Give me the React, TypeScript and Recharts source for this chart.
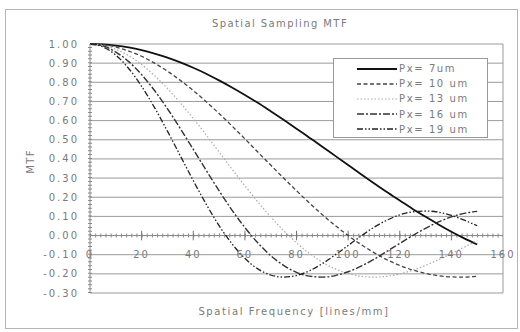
import {
  LineChart,
  Line,
  XAxis,
  YAxis,
  CartesianGrid,
  ReferenceLine,
  ReferenceDot,
} from 'recharts'

// spatial frequency, lines/mm
const freq = [0, 5, 10, 15, 20, 25, 30, 35, 40, 45, 50, 55, 60, 65, 70, 75, 80, 85, 90, 95, 100, 105, 110, 115, 120, 125, 130, 135, 140, 145, 150]

// MTF for each pixel pitch
const px7 = [1.0, 0.998, 0.992, 0.982, 0.968, 0.95, 0.929, 0.904, 0.876, 0.845, 0.81, 0.773, 0.734, 0.693, 0.649, 0.604, 0.558, 0.511, 0.464, 0.416, 0.368, 0.32, 0.273, 0.227, 0.183, 0.139, 0.098, 0.058, 0.02, -0.015, -0.047]
const px10 = [1.0, 0.996, 0.984, 0.963, 0.936, 0.9, 0.858, 0.81, 0.757, 0.699, 0.637, 0.572, 0.505, 0.436, 0.368, 0.3, 0.234, 0.17, 0.109, 0.052, 0.0, -0.047, -0.089, -0.126, -0.156, -0.18, -0.198, -0.21, -0.216, -0.217, -0.212]
const px13 = [1.0, 0.993, 0.972, 0.939, 0.893, 0.835, 0.768, 0.693, 0.611, 0.525, 0.436, 0.347, 0.26, 0.176, 0.098, 0.026, -0.038, -0.093, -0.139, -0.174, -0.198, -0.213, -0.217, -0.213, -0.2, -0.181, -0.156, -0.126, -0.094, -0.06, -0.026]
const px16 = [1.0, 0.99, 0.958, 0.908, 0.84, 0.757, 0.662, 0.558, 0.45, 0.341, 0.234, 0.133, 0.042, -0.038, -0.105, -0.156, -0.192, -0.212, -0.217, -0.209, -0.189, -0.16, -0.124, -0.083, -0.041, 0.0, 0.038, 0.071, 0.097, 0.116, 0.126]
const px19 = [1.0, 0.985, 0.942, 0.872, 0.779, 0.668, 0.545, 0.416, 0.287, 0.164, 0.052, -0.043, -0.119, -0.174, -0.206, -0.217, -0.209, -0.184, -0.147, -0.101, -0.052, -0.003, 0.043, 0.08, 0.108, 0.124, 0.128, 0.122, 0.105, 0.08, 0.051]

const yTicks = [-0.3, -0.2, -0.1, 0, 0.1, 0.2, 0.3, 0.4, 0.5, 0.6, 0.7, 0.8, 0.9, 1.0]
const xTicks = [0, 20, 40, 60, 80, 100, 120, 140, 160]
const seriesNames = ['Px= 7um', 'Px= 10 um', 'Px= 13 um', 'Px= 16 um', 'Px= 19 um']

const data = freq.map((f, i) => ({
  f,
  px7: px7[i],
  px10: px10[i],
  px13: px13[i],
  px16: px16[i],
  px19: px19[i],
}))

const series = [
  { key: 'px7', name: seriesNames[0], color: '#111', width: 1.8, dash: undefined },
  { key: 'px10', name: seriesNames[1], color: '#444', width: 1.3, dash: '4 2.5' },
  { key: 'px13', name: seriesNames[2], color: '#aaa', width: 1.2, dash: '1.5 2' },
  { key: 'px16', name: seriesNames[3], color: '#333', width: 1.4, dash: '7 2 2 2' },
  { key: 'px19', name: seriesNames[4], color: '#222', width: 1.3, dash: '6 2 1.5 2 1.5 2' },
]

const textGray = '#7a7a7a'
const gridGray = '#9a9a9a'

function LegendBox() {
  return (
    <div
      style={{
        position: 'absolute',
        left: 333,
        top: 58,
        width: 155,
        height: 80,
        border: '1px solid #999',
        background: '#fff',
        padding: '2px 0 0 22px',
        boxSizing: 'border-box',
      }}
    >
      {series.map((s) => (
        <div key={s.key} style={{ display: 'flex', alignItems: 'center', height: 15.2 }}>
          <svg width={42} height={8}>
            <line x1={1} y1={4} x2={41} y2={4} stroke={s.color} strokeWidth={s.width} strokeDasharray={s.dash} />
          </svg>
          <span style={{ fontSize: 10, color: textGray, letterSpacing: 1.6, marginLeft: 1 }}>{s.name}</span>
        </div>
      ))}
    </div>
  )
}

export default function App() {
  return (
    <div
      style={{
        position: 'absolute',
        left: 0,
        top: 0,
        width: 520,
        height: 332,
        background: '#fff',
        fontFamily: 'DejaVu Sans',
      }}
    >
      <div
        style={{
          position: 'absolute',
          left: 5,
          top: 9,
          width: 513,
          height: 320,
          border: '1px solid #b5b5b5',
          boxSizing: 'border-box',
        }}
      />
      <div
        style={{
          position: 'absolute',
          left: 180,
          top: 18,
          width: 200,
          textAlign: 'center',
          fontSize: 10,
          letterSpacing: 1.4,
          color: textGray,
        }}
      >
        Spatial Sampling MTF
      </div>
      <div
        style={{
          position: 'absolute',
          left: 14,
          top: 156,
          width: 32,
          textAlign: 'center',
          fontSize: 10,
          letterSpacing: 1.4,
          color: textGray,
          transform: 'rotate(-90deg)',
        }}
      >
        MTF
      </div>
      <div
        style={{
          position: 'absolute',
          left: 174,
          top: 306,
          width: 240,
          textAlign: 'center',
          fontSize: 10,
          letterSpacing: 1.6,
          color: textGray,
        }}
      >
        Spatial Frequency [lines/mm]
      </div>
      <LineChart
        width={520}
        height={332}
        data={data}
        margin={{ top: 44, right: 17, bottom: 39, left: 20 }}
        style={{ position: 'absolute', left: 0, top: 0 }}
      >
        <CartesianGrid vertical={false} stroke={gridGray} />
        <XAxis dataKey="f" type="number" domain={[0, 160]} ticks={xTicks} hide />
        <YAxis
          type="number"
          domain={[-0.3, 1]}
          ticks={yTicks}
          width={70}
          interval={0}
          tickFormatter={(v: number) => v.toFixed(2)}
          tick={{ fontSize: 10, fill: textGray, letterSpacing: 2 }}
          tickLine={false}
          tickMargin={5}
          axisLine={{ stroke: '#888' }}
        />
        <ReferenceLine x={160} stroke={gridGray} />
        <ReferenceLine y={0} stroke="#8a8a8a" />
        <ReferenceLine y={0} stroke="#8a8a8a" strokeWidth={4} strokeDasharray="1 4.16" />
        <ReferenceLine x={0} stroke="#8a8a8a" strokeWidth={4} strokeDasharray="1 2.83" />
        {xTicks.slice(1, 8).map((t) => (
          <ReferenceLine
            key={'tk' + t}
            segment={[
              { x: t, y: -0.025 },
              { x: t, y: 0.025 },
            ]}
            stroke="#777"
          />
        ))}
        {xTicks.map((t) => (
          <ReferenceDot
            key={'lb' + t}
            x={t}
            y={-0.1}
            r={1}
            fill="none"
            stroke="none"
            ifOverflow="visible"
            label={{ value: String(t), position: 'center', fontSize: 10, fill: textGray, letterSpacing: 2 }}
          />
        ))}
        {series.map((s) => (
          <Line
            key={s.key}
            dataKey={s.key}
            name={s.name}
            type="monotone"
            stroke={s.color}
            strokeWidth={s.width}
            strokeDasharray={s.dash}
            dot={false}
            isAnimationActive={false}
          />
        ))}
      </LineChart>
      <LegendBox />
    </div>
  )
}
